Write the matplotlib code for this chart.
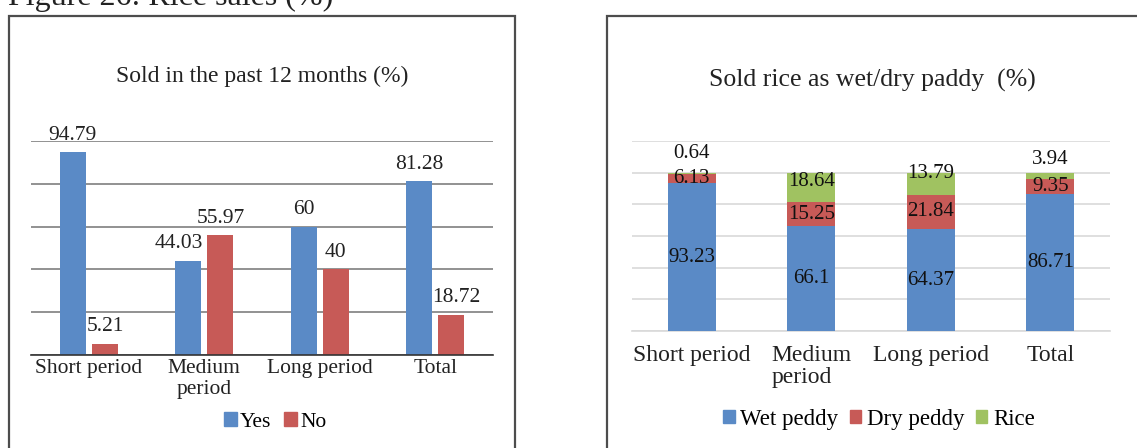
import numpy as np
import matplotlib
matplotlib.use('Agg')
import matplotlib.pyplot as plt
from matplotlib.patches import Rectangle, Patch

plt.rcParams['font.family'] = ['Liberation Serif', 'DejaVu Serif']

# data
categories_left = ['Short period', 'Medium\nperiod', 'Long period', 'Total']
sold_yes = [94.79, 44.03, 60, 81.28]
sold_no = [5.21, 55.97, 40, 18.72]

categories_right = ['Short period', 'Medium\nperiod', 'Long period', 'Total']
wet_paddy = [93.23, 66.1, 64.37, 86.71]
dry_paddy = [6.13, 15.25, 21.84, 9.35]
rice = [0.64, 18.64, 13.79, 3.94]

BLUE = '#5A8AC6'
RED = '#C75A57'
GREEN = '#A0C261'

W, H = 1137, 448
fig = plt.figure(figsize=(W / 100, H / 100), dpi=100)

def fx(px):
    return px / W

def fy(py):
    return 1 - py / H

# cut-off heading at the top
fig.text(fx(8), fy(5), 'Figure 26: Rice sales (%)', fontsize=23,
         va='baseline', ha='left', color='#222222')

# panel borders
fig.patches.append(Rectangle((fx(9), fy(460)), fx(515) - fx(9), fy(16) - fy(460),
                             transform=fig.transFigure, fill=False,
                             edgecolor='#4d4d4d', lw=1.6))
fig.patches.append(Rectangle((fx(607), fy(460)), fx(1150) - fx(607), fy(16) - fy(460),
                             transform=fig.transFigure, fill=False,
                             edgecolor='#4d4d4d', lw=1.6))

# ---- left chart ----
ax1 = fig.add_axes([fx(31), fy(355), fx(493) - fx(31), fy(141) - fy(355)])
x = np.arange(len(categories_left))
bw = 0.225
off = 0.14
b1 = ax1.bar(x - off, sold_yes, bw, color=BLUE, zorder=3)
b2 = ax1.bar(x + off, sold_no, bw, color=RED, zorder=3)
# small sideways nudges Excel applied to avoid overlapping labels
nudge_yes = [0, -0.08, 0, 0]
nudge_no = [0, 0, 0, 0.04]
for bars, vals, nd in ((b1, sold_yes, nudge_yes), (b2, sold_no, nudge_no)):
    for r, v, n in zip(bars, vals, nd):
        ax1.text(r.get_x() + r.get_width() / 2 + n, v + 3.5, '{:g}'.format(v),
                 ha='center', va='bottom', fontsize=15.5, color='#222222')
ax1.set_xlim(-0.5, 3.5)
ax1.set_ylim(0, 100)
ax1.set_yticks(np.arange(0, 101, 20))
ax1.yaxis.grid(True, color='#7f7f7f', lw=1.2, zorder=0)
for s in ('top', 'right', 'left'):
    ax1.spines[s].set_visible(False)
ax1.spines['bottom'].set_color('#333333')
ax1.spines['bottom'].set_linewidth(1.2)
ax1.spines['bottom'].set_zorder(4)
ax1.set_xticks(x)
ax1.set_xticklabels(categories_left, fontsize=15.5, linespacing=1.15, color='#222222')
ax1.tick_params(axis='x', length=0, pad=3)
ax1.tick_params(axis='y', length=0, labelleft=False)
fig.text(fx(262), fy(76), 'Sold in the past 12 months (%)', fontsize=17,
         ha='center', va='center', color='#222222')
fig.legend(handles=[Patch(color=BLUE, label='Yes'), Patch(color=RED, label='No')],
           loc='center', bbox_to_anchor=(fx(275), fy(422)), ncol=2, frameon=False,
           fontsize=15.5, handlelength=0.6, handleheight=0.6, handletextpad=0.15,
           columnspacing=0.6)

# ---- right chart ----
ax2 = fig.add_axes([fx(632), fy(331), fx(1110) - fx(632), fy(141) - fy(331)])
x2 = np.arange(len(categories_right))
bw2 = 0.4
bottom_dry = np.array(wet_paddy)
bottom_rice = bottom_dry + np.array(dry_paddy)
ax2.bar(x2, wet_paddy, bw2, color=BLUE, zorder=3)
ax2.bar(x2, dry_paddy, bw2, bottom=bottom_dry, color=RED, zorder=3)
ax2.bar(x2, rice, bw2, bottom=bottom_rice, color=GREEN, zorder=3)
lab_kw = dict(ha='center', va='center', fontsize=15, color='#111111', zorder=5)
above = [12, 0, 0, 8.5]
for i in range(len(x2)):
    ax2.text(x2[i], wet_paddy[i] / 2, '{:g}'.format(wet_paddy[i]), **lab_kw)
    ax2.text(x2[i], bottom_dry[i] + dry_paddy[i] / 2, '{:g}'.format(dry_paddy[i]), **lab_kw)
    if rice[i] < 10:
        ax2.text(x2[i], bottom_rice[i] + rice[i] + above[i], '{:g}'.format(rice[i]), **lab_kw)
    elif rice[i] < 15:
        ax2.text(x2[i], bottom_rice[i] + rice[i] - 0.5, '{:g}'.format(rice[i]), **lab_kw)
    else:
        ax2.text(x2[i], bottom_rice[i] + rice[i] / 2 + 4, '{:g}'.format(rice[i]), **lab_kw)
ax2.set_xlim(-0.5, 3.5)
ax2.set_ylim(0, 120)
ax2.set_yticks(np.arange(0, 121, 20))
ax2.yaxis.grid(True, color='#d9d9d9', lw=1.2, zorder=0)
for s in ('top', 'right', 'left'):
    ax2.spines[s].set_visible(False)
ax2.spines['bottom'].set_color('#d9d9d9')
ax2.spines['bottom'].set_linewidth(1.2)
ax2.set_xticks(x2)
ax2.set_xticklabels(categories_right, fontsize=17, linespacing=1.1,
                    multialignment='left', color='#222222')
ax2.tick_params(axis='x', length=0, pad=10)
ax2.tick_params(axis='y', length=0, labelleft=False)
fig.text(fx(872), fy(80), 'Sold rice as wet/dry paddy  (%)', fontsize=18.5,
         ha='center', va='center', color='#222222')
fig.legend(handles=[Patch(color=BLUE, label='Wet peddy'),
                    Patch(color=RED, label='Dry peddy'),
                    Patch(color=GREEN, label='Rice')],
           loc='center', bbox_to_anchor=(fx(879), fy(419)), ncol=3, frameon=False,
           fontsize=16.5, handlelength=0.5, handleheight=0.5, handletextpad=0.25,
           columnspacing=0.5)

fig.savefig('out.png', dpi=100)
